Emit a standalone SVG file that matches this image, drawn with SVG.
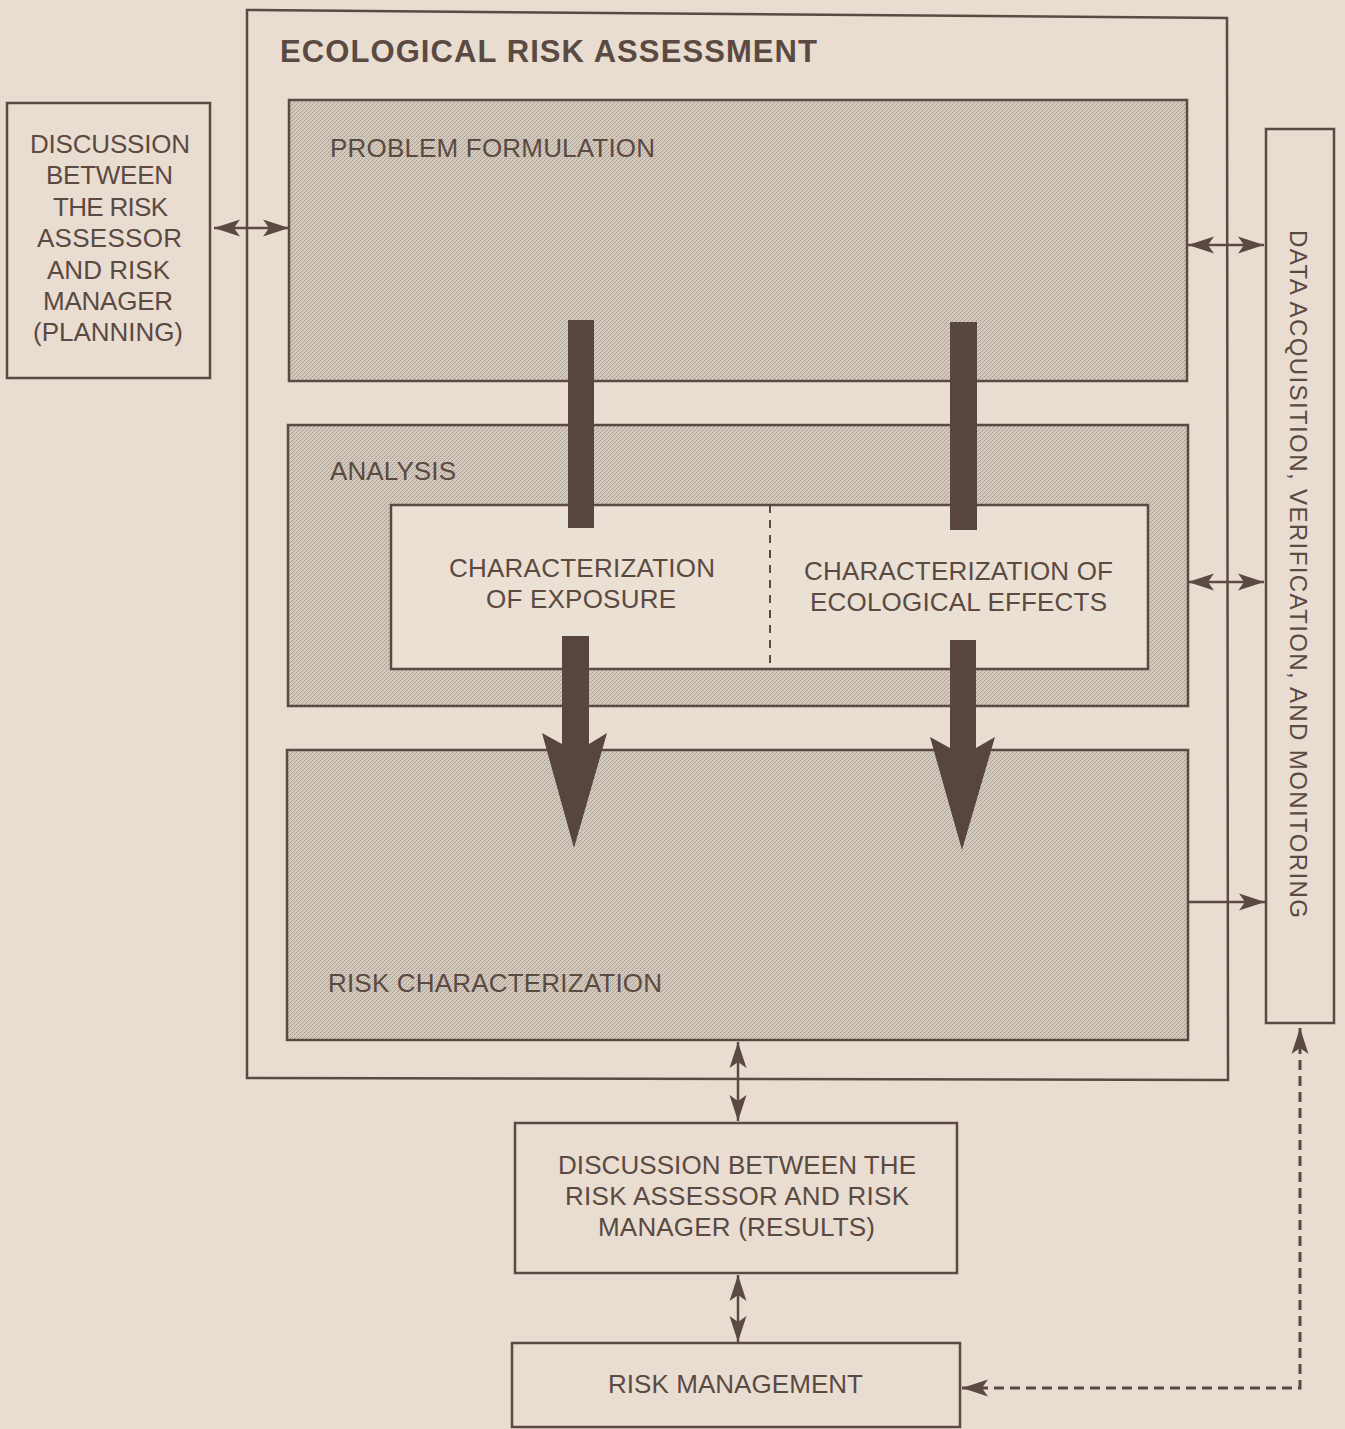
<svg xmlns="http://www.w3.org/2000/svg" width="1345" height="1429" viewBox="0 0 1345 1429">
<defs>
<pattern id="stip" width="4" height="4" patternUnits="userSpaceOnUse">
<rect width="4" height="4" fill="#d3c8bc"/>
<rect x="0" y="0" width="1" height="1" fill="#a3968a"/>
<rect x="2" y="2" width="1" height="1" fill="#a3968a"/>
<rect x="1" y="3" width="1" height="1" fill="#bcb0a4"/>
<rect x="3" y="1" width="1" height="1" fill="#bcb0a4"/>
</pattern>
<marker id="ah" markerWidth="28" markerHeight="20" refX="26" refY="10" orient="auto-start-reverse" markerUnits="userSpaceOnUse">
<path d="M0,1.5 L26,10 L0,18.5 L6,10 z" fill="#5b4a42"/>
</marker>
<style>
.bx{fill:none;stroke:#5b4a42;stroke-width:2.5}
.sh{fill:url(#stip);stroke:#5b4a42;stroke-width:2.5}
.t{font-family:"Liberation Sans",Arial,sans-serif;font-size:26px;fill:#5b4a42}
.tv{font-family:"Liberation Sans",Arial,sans-serif;font-size:24px;fill:#5b4a42}
.tb{font-family:"Liberation Sans",Arial,sans-serif;font-size:31px;font-weight:bold;fill:#5b4a42}
.ln{fill:none;stroke:#5b4a42;stroke-width:2.5}
.bar{fill:#56463f}
</style>
</defs>
<rect width="1345" height="1429" fill="#e9ddd1"/>

<g id="era">
<polygon class="bx" points="247,10 1227,18 1228,1080 247,1078"/>
<text class="tb" x="280" y="62" textLength="537">ECOLOGICAL RISK ASSESSMENT</text>
</g>

<g id="planning">
<rect class="bx" x="7" y="103" width="203" height="275"/>
<text class="t" x="30" y="153" textLength="160">DISCUSSION</text>
<text class="t" x="46" y="184" textLength="127">BETWEEN</text>
<text class="t" x="53" y="216" textLength="115">THE RISK</text>
<text class="t" x="37" y="247" textLength="145">ASSESSOR</text>
<text class="t" x="47" y="279" textLength="123">AND RISK</text>
<text class="t" x="43" y="310" textLength="130">MANAGER</text>
<text class="t" x="33" y="341" textLength="150">(PLANNING)</text>
</g>

<g id="problem-formulation">
<rect class="sh" x="289" y="100" width="898" height="281"/>
<text class="t" x="330" y="157" textLength="325">PROBLEM FORMULATION</text>
</g>

<g id="analysis">
<rect class="sh" x="288" y="425" width="900" height="281"/>
<text class="t" x="330" y="480" textLength="126">ANALYSIS</text>
</g>

<g id="characterization">
<rect x="391" y="505" width="757" height="164" fill="#ebe0d4" stroke="#5b4a42" stroke-width="2.5"/>
<line x1="770" y1="505" x2="770" y2="669" stroke="#5b4a42" stroke-width="2" stroke-dasharray="8,7"/>
<text class="t" x="449" y="577" textLength="266">CHARACTERIZATION</text>
<text class="t" x="486" y="608" textLength="190">OF EXPOSURE</text>
<text class="t" x="804" y="580" textLength="309">CHARACTERIZATION OF</text>
<text class="t" x="810" y="611" textLength="297">ECOLOGICAL EFFECTS</text>
</g>

<g id="risk-characterization">
<rect class="sh" x="287" y="750" width="901" height="290"/>
<text class="t" x="328" y="992" textLength="334">RISK CHARACTERIZATION</text>
</g>

<g id="data-acquisition">
<rect class="bx" x="1266" y="129" width="68" height="894"/>
<text class="tv" transform="translate(1290,574) rotate(90)" x="-344" y="0" textLength="688">DATA ACQUISITION, VERIFICATION, AND MONITORING</text>
</g>

<g id="results">
<rect class="bx" x="515" y="1123" width="442" height="150"/>
<text class="t" x="558" y="1174" textLength="358">DISCUSSION BETWEEN THE</text>
<text class="t" x="565" y="1205" textLength="344">RISK ASSESSOR AND RISK</text>
<text class="t" x="598" y="1236" textLength="277">MANAGER (RESULTS)</text>
</g>

<g id="risk-management">
<rect class="bx" x="512" y="1343" width="448" height="84"/>
<text class="t" x="608" y="1393" textLength="255">RISK MANAGEMENT</text>
</g>

<g id="connectors">
<rect class="bar" x="568" y="320" width="26" height="208"/>
<rect class="bar" x="950" y="322" width="27" height="208"/>
<polygon class="bar" points="562,636 562,744 542,733 574,848 607,733 589,744 589,636"/>
<polygon class="bar" points="950,640 950,748 930,737 962,850 995,737 976,748 976,640"/>
<line class="ln" x1="214" y1="228" x2="289" y2="228" marker-start="url(#ah)" marker-end="url(#ah)"/>
<line class="ln" x1="1188" y1="245" x2="1264" y2="245" marker-start="url(#ah)" marker-end="url(#ah)"/>
<line class="ln" x1="1188" y1="582" x2="1264" y2="582" marker-start="url(#ah)" marker-end="url(#ah)"/>
<line class="ln" x1="1188" y1="902" x2="1265" y2="902" marker-end="url(#ah)"/>
<line class="ln" x1="738" y1="1042" x2="738" y2="1121" marker-start="url(#ah)" marker-end="url(#ah)"/>
<line class="ln" x1="738" y1="1275" x2="738" y2="1342" marker-start="url(#ah)" marker-end="url(#ah)"/>
<polyline fill="none" stroke="#5b4a42" stroke-width="3" stroke-dasharray="10,6" points="1300,1028 1300,1388 962,1388" marker-start="url(#ah)" marker-end="url(#ah)"/>
</g>
</svg>
